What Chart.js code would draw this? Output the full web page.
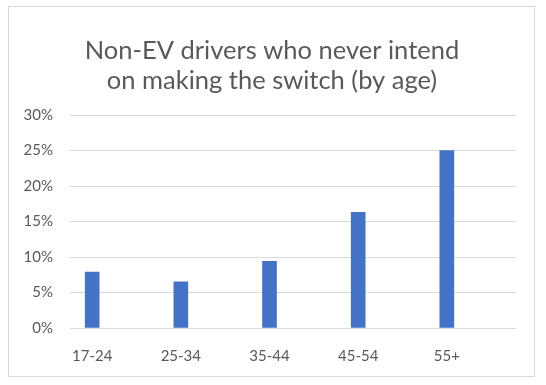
<!DOCTYPE html>
<html>
<head>
<meta charset="utf-8">
<script src="https://cdn.jsdelivr.net/npm/chart.js@4.4.0/dist/chart.umd.js"></script>
<style>
  body { margin: 0; background: #ffffff; }
  .frame {
    position: absolute; left: 8px; top: 6px; width: 527px; height: 371px;
    border: 1px solid #d9d9d9; box-sizing: border-box;
  }
  .chart-container { position: absolute; left: 0; top: 0; width: 546px; height: 385px; }
</style>
</head>
<body>
<div class="frame"></div>
<div class="chart-container"><canvas id="chart"></canvas></div>
<script>
// data
const ageGroups = ['17-24', '25-34', '35-44', '45-54', '55+'];
const neverSwitchPct = [7.9, 6.5, 9.4, 16.3, 25.0];
const yTicks = [0, 5, 10, 15, 20, 25, 30];

const textColor = '#595959';
const gridColor = '#d9d9d9';
const fontFamily = "Lato, 'Open Sans', sans-serif";

const ctx = document.getElementById('chart').getContext('2d');

// nudge the title box so it sits centred on the frame, not the plot
const centerTitle = {
  id: 'centerTitle',
  afterLayout: chart => {
    if (chart.titleBlock) chart.titleBlock.left = 28;
  },
};

new Chart(ctx, {
  type: 'bar',
  data: {
    datasets: [{
      data: neverSwitchPct.map((v, i) => ({x: i, y: v})),
      backgroundColor: '#4472c4',
      borderWidth: 0,
      barThickness: 14,
    }],
  },
  options: {
    responsive: true,
    maintainAspectRatio: false,
    animation: false,
    layout: {padding: {left: 0, right: 30, top: 0, bottom: 1}},
    plugins: {
      legend: {display: false},
      tooltip: {enabled: false},
      title: {
        display: true,
        text: ['Non-EV drivers who never intend', 'on making the switch (by age)'],
        color: textColor,
        font: {family: fontFamily, size: 25.5, weight: 'normal', lineHeight: 1.18},
        padding: {top: 36, bottom: 19},
      },
    },
    scales: {
      x: {
        type: 'linear',
        offset: false,
        min: -0.25,
        max: 4.78,
        grid: {display: false, drawTicks: false, offset: false},
        border: {display: false},
        afterBuildTicks: scale => {
          scale.ticks = ageGroups.map((_, i) => ({value: i}));
        },
        ticks: {
          color: textColor,
          font: {family: fontFamily, size: 15},
          padding: 19,
          maxRotation: 0,
          autoSkip: false,
          callback: v => ageGroups[v],
        },
      },
      y: {
        min: 0,
        max: 30,
        afterFit: scale => { scale.width = 70; },
        afterBuildTicks: scale => {
          scale.ticks = yTicks.map(v => ({value: v}));
        },
        grid: {color: gridColor, lineWidth: 1, drawTicks: false},
        border: {display: false},
        ticks: {
          color: textColor,
          font: {family: fontFamily, size: 15},
          padding: 17,
          callback: v => v + '%',
        },
      },
    },
  },
  plugins: [centerTitle],
});
</script>
</body>
</html>
